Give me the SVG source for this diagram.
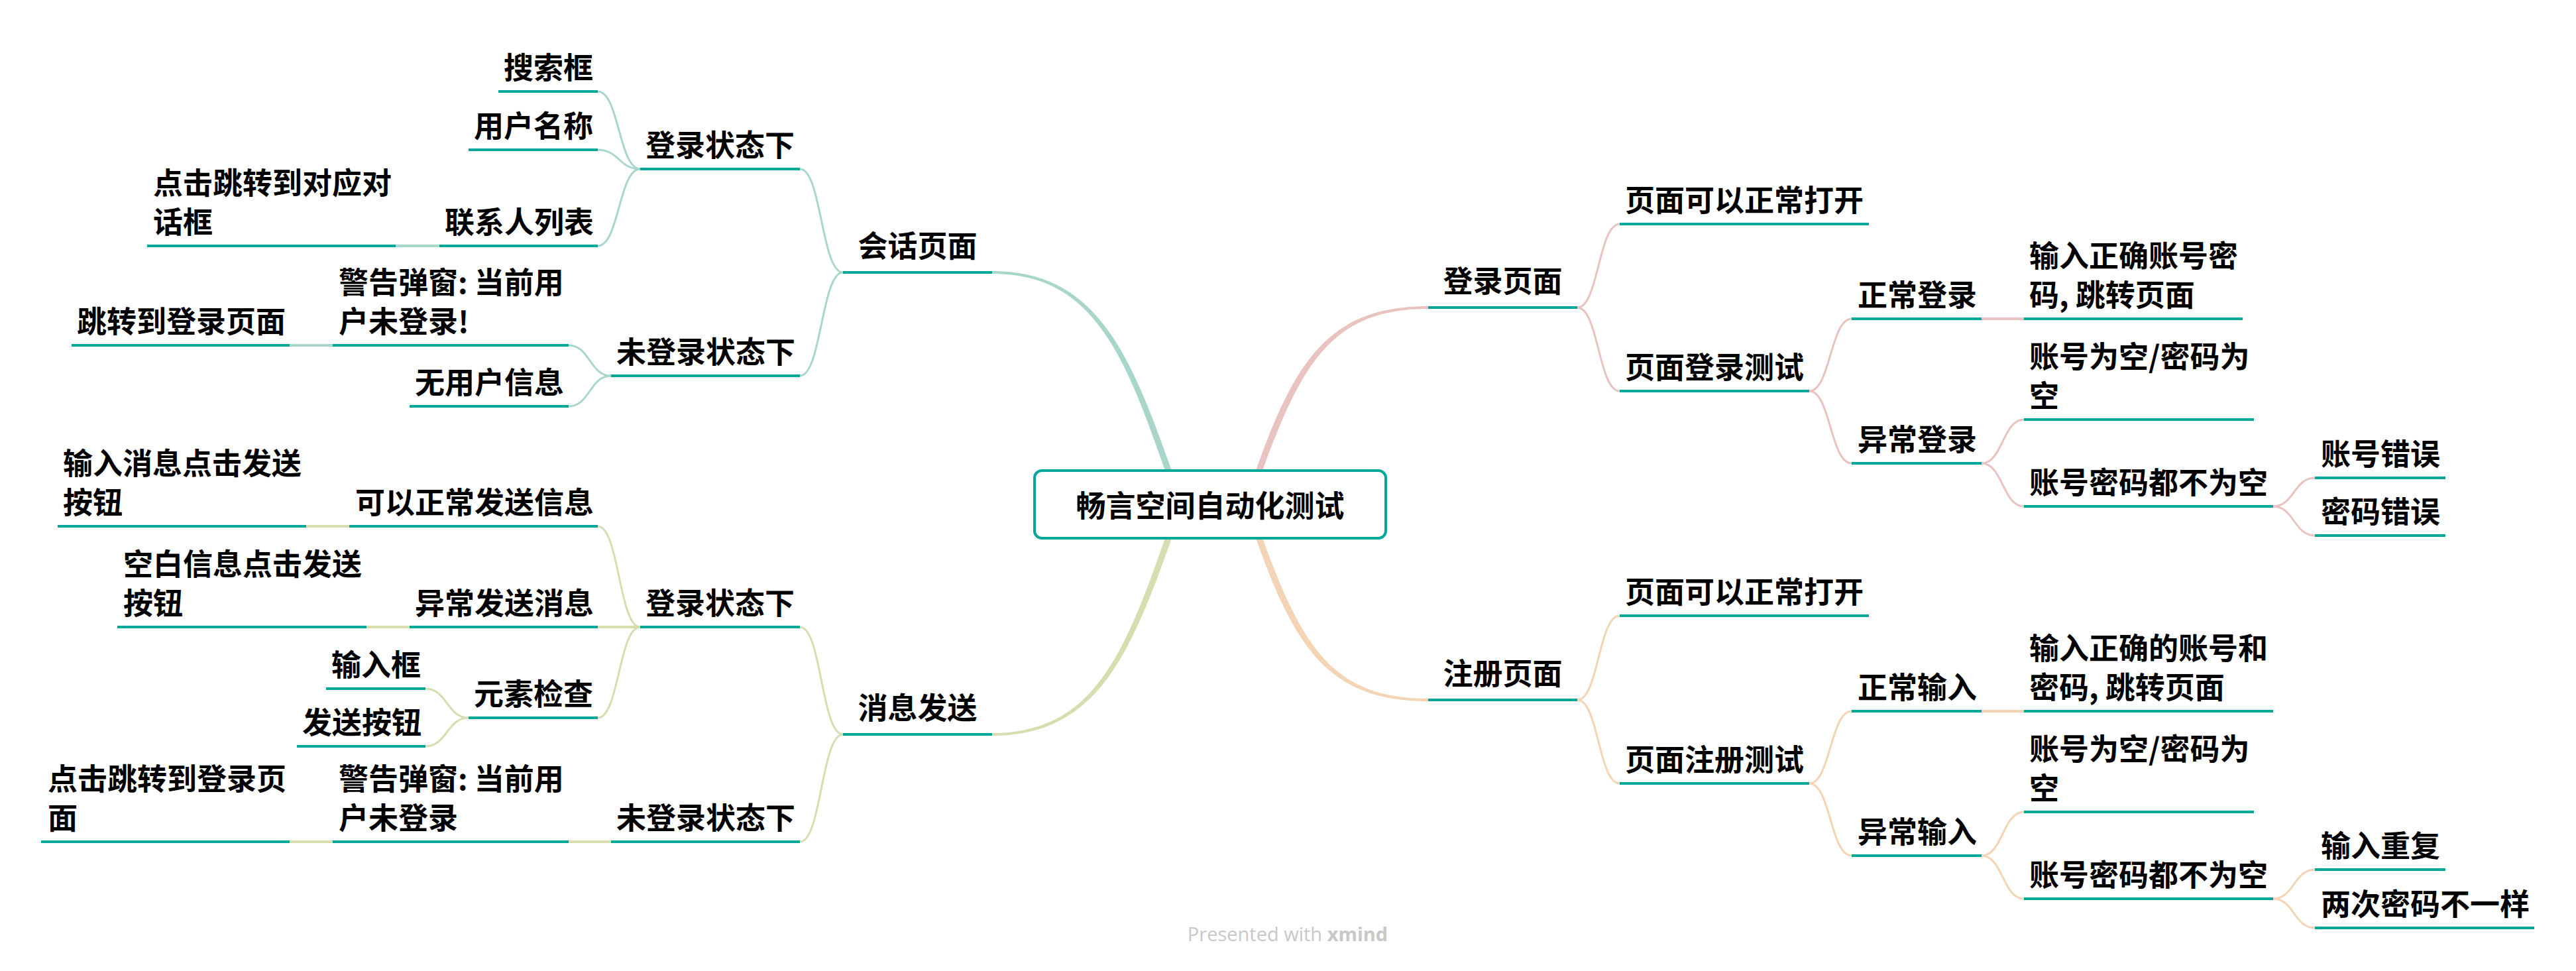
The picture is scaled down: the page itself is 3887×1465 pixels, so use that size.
<svg xmlns="http://www.w3.org/2000/svg" width="3887" height="1465" viewBox="0 0 3887 1465">
<defs>
<style>
.t{font-family:"Noto Sans CJK SC","Noto Sans",sans-serif;font-weight:700;font-size:45px;fill:#000}
.tc{text-anchor:middle}
.u{stroke:#00A899;stroke-width:4;fill:none}
.c{fill:none;stroke-width:3;stroke-linecap:round}
.s{fill:none;stroke-width:4}
.b1{stroke:#A9D6CB}.b2{stroke:#D8DDB0}.b3{stroke:#E8C3C0}.b4{stroke:#F3D4B4}
.wm{font-family:"Open Sans","Noto Sans",sans-serif;font-size:29px;fill:#c8c8c8}
</style>
</defs>
<rect width="3887" height="1465" fill="#fff"/>
<g id="connectors">
<path d="M1768 710 C1704 528 1652 409 1497 409 L1497 413 C1648 413 1696 532 1758 710 Z" fill="#A9D6CB"/>
<path d="M1768 812 C1704 994 1652 1110 1497 1110 L1497 1106 C1648 1106 1696 990 1758 812 Z" fill="#D8DDB0"/>
<path d="M1895 710 C1955 540 2008 462 2155 462 L2155 466 C2012 466 1965 545 1905 710 Z" fill="#E8C3C0"/>
<path d="M1895 812 C1955 982 2008 1058 2155 1058 L2155 1054 C2012 1054 1965 977 1905 812 Z" fill="#F3D4B4"/>
<g class="b1">
<path class="c" d="M1272 411 C1239.5 411 1239.5 255 1207 255"/>
<path class="c" d="M1272 411 C1239.5 411 1239.5 567 1207 567"/>
<path class="c" d="M966 255 C934 255 934 138 902 138"/>
<path class="c" d="M966 255 C934 255 934 226 902 226"/>
<path class="c" d="M966 255 C934 255 934 371 902 371"/>
<path class="s" d="M663 371 H597"/>
<path class="c" d="M922 567 C890 567 890 521 858 521"/>
<path class="c" d="M922 567 C890 567 890 613 858 613"/>
<path class="s" d="M502 521 H437"/>
</g>
<g class="b2">
<path class="c" d="M1272 1108 C1239.5 1108 1239.5 946 1207 946"/>
<path class="c" d="M1272 1108 C1239.5 1108 1239.5 1270 1207 1270"/>
<path class="c" d="M966 946 C934 946 934 794 902 794"/>
<path class="s" d="M966 946 H902"/>
<path class="c" d="M966 946 C934 946 934 1083 902 1083"/>
<path class="s" d="M527 794 H462"/>
<path class="s" d="M618 946 H553"/>
<path class="c" d="M707 1083 C674.5 1083 674.5 1039 642 1039"/>
<path class="c" d="M707 1083 C674.5 1083 674.5 1126 642 1126"/>
<path class="s" d="M922 1270 H858"/>
<path class="s" d="M502 1270 H437"/>
</g>
<g class="b3">
<path class="c" d="M2380 464 C2412 464 2412 338 2444 338"/>
<path class="c" d="M2380 464 C2412 464 2412 590 2444 590"/>
<path class="c" d="M2730 590 C2762 590 2762 481 2794 481"/>
<path class="c" d="M2730 590 C2762 590 2762 699 2794 699"/>
<path class="s" d="M2990 481 H3054"/>
<path class="c" d="M2990 699 C3022 699 3022 633 3054 633"/>
<path class="c" d="M2990 699 C3022 699 3022 764 3054 764"/>
<path class="c" d="M3430 764 C3461.5 764 3461.5 721 3493 721"/>
<path class="c" d="M3430 764 C3461.5 764 3461.5 808 3493 808"/>
</g>
<g class="b4">
<path class="c" d="M2380 1056 C2412 1056 2412 929 2444 929"/>
<path class="c" d="M2380 1056 C2412 1056 2412 1182 2444 1182"/>
<path class="c" d="M2730 1182 C2762 1182 2762 1073 2794 1073"/>
<path class="c" d="M2730 1182 C2762 1182 2762 1291 2794 1291"/>
<path class="s" d="M2990 1073 H3054"/>
<path class="c" d="M2990 1291 C3022 1291 3022 1225 3054 1225"/>
<path class="c" d="M2990 1291 C3022 1291 3022 1356 3054 1356"/>
<path class="c" d="M3430 1356 C3461.5 1356 3461.5 1312 3493 1312"/>
<path class="c" d="M3430 1356 C3461.5 1356 3461.5 1400 3493 1400"/>
</g>
</g>
<g id="root">
<rect x="1561" y="710" width="530" height="102" rx="11" fill="#fff" stroke="#00A899" stroke-width="4"/>
<text class="t tc" x="1826" y="780">畅言空间自动化测试</text>
</g>
<g id="n-huihua"><path class="u" d="M1272 411 H1497"/><text class="t tc" x="1384.5" y="388">会话页面</text></g>
<g id="n-xiaoxi"><path class="u" d="M1272 1108 H1497"/><text class="t tc" x="1384.5" y="1085">消息发送</text></g>
<g id="n-denglu"><path class="u" d="M2155 464 H2380"/><text class="t tc" x="2267.5" y="441">登录页面</text></g>
<g id="n-zhuce"><path class="u" d="M2155 1056 H2380"/><text class="t tc" x="2267.5" y="1033">注册页面</text></g>

<g id="n-h-login"><path class="u" d="M966 255 H1207"/><text class="t" x="974" y="236">登录状态下</text></g>
<g id="n-h-logout"><path class="u" d="M922 567 H1207"/><text class="t" x="930" y="548">未登录状态下</text></g>
<g id="n-h-search"><path class="u" d="M752 138 H902"/><text class="t" x="760" y="119">搜索框</text></g>
<g id="n-h-user"><path class="u" d="M707 226 H902"/><text class="t" x="715" y="207">用户名称</text></g>
<g id="n-h-contacts"><path class="u" d="M663 371 H902"/><text class="t" x="671" y="352">联系人列表</text></g>
<g id="n-h-click"><path class="u" d="M222 371 H597"/><text class="t" x="231" y="293">点击跳转到对应对</text><text class="t" x="231" y="352">话框</text></g>
<g id="n-h-warn"><path class="u" d="M502 521 H858"/><text class="t" x="511" y="443">警告弹窗: 当前用</text><text class="t" x="511" y="502">户未登录!</text></g>
<g id="n-h-jump"><path class="u" d="M108 521 H437"/><text class="t" x="116" y="502">跳转到登录页面</text></g>
<g id="n-h-nouser"><path class="u" d="M618 613 H858"/><text class="t" x="626" y="594">无用户信息</text></g>

<g id="n-m-login"><path class="u" d="M966 946 H1207"/><text class="t" x="974" y="927">登录状态下</text></g>
<g id="n-m-logout"><path class="u" d="M922 1270 H1207"/><text class="t" x="930" y="1251">未登录状态下</text></g>
<g id="n-m-send"><path class="u" d="M527 794 H902"/><text class="t" x="536" y="775">可以正常发送信息</text></g>
<g id="n-m-send-d"><path class="u" d="M87 794 H462"/><text class="t" x="95" y="716">输入消息点击发送</text><text class="t" x="95" y="775">按钮</text></g>
<g id="n-m-err"><path class="u" d="M618 946 H902"/><text class="t" x="626" y="927">异常发送消息</text></g>
<g id="n-m-err-d"><path class="u" d="M177 946 H553"/><text class="t" x="186" y="868">空白信息点击发送</text><text class="t" x="186" y="927">按钮</text></g>
<g id="n-m-check"><path class="u" d="M707 1083 H902"/><text class="t" x="715" y="1064">元素检查</text></g>
<g id="n-m-input"><path class="u" d="M492 1039 H642"/><text class="t" x="500" y="1020">输入框</text></g>
<g id="n-m-btn"><path class="u" d="M448 1126 H642"/><text class="t" x="456" y="1107">发送按钮</text></g>
<g id="n-m-warn"><path class="u" d="M502 1270 H858"/><text class="t" x="511" y="1192">警告弹窗: 当前用</text><text class="t" x="511" y="1251">户未登录</text></g>
<g id="n-m-jump"><path class="u" d="M62 1270 H437"/><text class="t" x="72" y="1192">点击跳转到登录页</text><text class="t" x="72" y="1251">面</text></g>

<g id="n-d-open"><path class="u" d="M2444 338 H2820"/><text class="t" x="2452" y="319">页面可以正常打开</text></g>
<g id="n-d-test"><path class="u" d="M2444 590 H2730"/><text class="t" x="2452" y="571">页面登录测试</text></g>
<g id="n-d-ok"><path class="u" d="M2794 481 H2990"/><text class="t" x="2803" y="462">正常登录</text></g>
<g id="n-d-ok-d"><path class="u" d="M3054 481 H3384"/><text class="t" x="3062" y="403">输入正确账号密</text><text class="t" x="3062" y="462">码, 跳转页面</text></g>
<g id="n-d-bad"><path class="u" d="M2794 699 H2990"/><text class="t" x="2803" y="680">异常登录</text></g>
<g id="n-d-empty"><path class="u" d="M3054 633 H3401"/><text class="t" x="3062" y="555">账号为空/密码为</text><text class="t" x="3062" y="614">空</text></g>
<g id="n-d-nonempty"><path class="u" d="M3054 764 H3430"/><text class="t" x="3062" y="745">账号密码都不为空</text></g>
<g id="n-d-acc"><path class="u" d="M3493 721 H3690"/><text class="t" x="3502" y="702">账号错误</text></g>
<g id="n-d-pwd"><path class="u" d="M3493 808 H3690"/><text class="t" x="3502" y="789">密码错误</text></g>

<g id="n-z-open"><path class="u" d="M2444 929 H2820"/><text class="t" x="2452" y="910">页面可以正常打开</text></g>
<g id="n-z-test"><path class="u" d="M2444 1182 H2730"/><text class="t" x="2452" y="1163">页面注册测试</text></g>
<g id="n-z-ok"><path class="u" d="M2794 1073 H2990"/><text class="t" x="2803" y="1054">正常输入</text></g>
<g id="n-z-ok-d"><path class="u" d="M3054 1073 H3430"/><text class="t" x="3062" y="995">输入正确的账号和</text><text class="t" x="3062" y="1054">密码, 跳转页面</text></g>
<g id="n-z-bad"><path class="u" d="M2794 1291 H2990"/><text class="t" x="2803" y="1272">异常输入</text></g>
<g id="n-z-empty"><path class="u" d="M3054 1225 H3401"/><text class="t" x="3062" y="1147">账号为空/密码为</text><text class="t" x="3062" y="1206">空</text></g>
<g id="n-z-nonempty"><path class="u" d="M3054 1356 H3430"/><text class="t" x="3062" y="1337">账号密码都不为空</text></g>
<g id="n-z-dup"><path class="u" d="M3493 1312 H3690"/><text class="t" x="3502" y="1293">输入重复</text></g>
<g id="n-z-diff"><path class="u" d="M3493 1400 H3824"/><text class="t" x="3502" y="1381">两次密码不一样</text></g>

<text class="wm" x="1943" y="1420" text-anchor="middle">Presented with <tspan font-weight="700">xmind</tspan></text>
</svg>
